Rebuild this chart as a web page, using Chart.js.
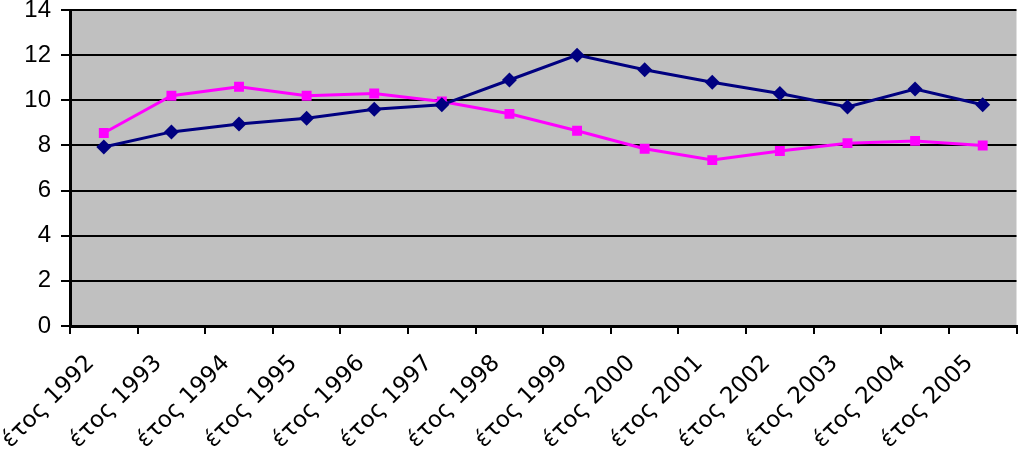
<!DOCTYPE html>
<html><head><meta charset="utf-8">
<script src="https://cdn.jsdelivr.net/npm/chart.js@4"></script>
<style>html,body{margin:0;padding:0;background:#fff}#wrap{width:1024px;height:449px}</style>
</head><body><div id="wrap"><canvas id="c" width="1024" height="449"></canvas></div>
<script>
const categories = ["έτος 1992","έτος 1993","έτος 1994","έτος 1995","έτος 1996","έτος 1997","έτος 1998","έτος 1999","έτος 2000","έτος 2001","έτος 2002","έτος 2003","έτος 2004","έτος 2005"];
const seriesBlue = [7.93, 8.6, 8.95, 9.2, 9.6, 9.8, 10.9, 12.0, 11.35, 10.8, 10.3, 9.7, 10.5, 9.8];
const seriesPink = [8.55, 10.2, 10.6, 10.2, 10.3, 9.95, 9.4, 8.65, 7.85, 7.35, 7.75, 8.1, 8.2, 8.0];
const yTicks = [0, 2, 4, 6, 8, 10, 12, 14];

const bgPlugin = {
  id: 'bg',
  beforeDraw(chart) {
    const {ctx, chartArea: a} = chart;
    ctx.save();
    ctx.fillStyle = '#C0C0C0';
    ctx.fillRect(a.left, a.top, a.right - a.left, a.bottom - a.top);
    ctx.restore();
  }
};

new Chart(document.getElementById('c'), {
  type: 'line',
  data: {
    labels: categories,
    datasets: [
      {data: seriesBlue, borderColor: '#000080', backgroundColor: '#000080', borderWidth: 3,
       pointStyle: 'rectRot', pointRadius: 7.5, pointBorderWidth: 0, tension: 0},
      {data: seriesPink, borderColor: '#FF00FF', backgroundColor: '#FF00FF', borderWidth: 3,
       pointStyle: 'rect', pointRadius: 7, pointBorderWidth: 0, tension: 0}
    ]
  },
  options: {
    responsive: false,
    animation: false,
    devicePixelRatio: 1,
    layout: {padding: {top: 10, right: 2, left: 0, bottom: 0}},
    plugins: {legend: {display: false}, tooltip: {enabled: false}},
    scales: {
      x: {
        offset: true,
        grid: {offset: true, drawOnChartArea: false, color: '#000', lineWidth: 2, tickLength: 8, tickWidth: 2, tickColor: '#000'},
        border: {color: '#000', width: 3},
        ticks: {color: '#000', font: {family: 'DejaVu Sans', size: 23}, minRotation: 45, maxRotation: 45, autoSkip: false, padding: 16, labelOffset: -13},
        afterFit(s) { s.height = 123; s.paddingLeft = 0; s.paddingRight = 0; }
      },
      y: {
        min: 0, max: 14,
        afterBuildTicks(s) { s.ticks = yTicks.map(v => ({value: v})); },
        grid: {color: '#000', lineWidth: 2, tickLength: 9, tickWidth: 2, tickColor: '#000'},
        border: {color: '#000', width: 3},
        ticks: {color: '#000', font: {family: 'Liberation Sans', size: 24}, padding: 10},
        afterFit(s) { s.width = 70; s.paddingTop = 0; s.paddingBottom = 0; }
      }
    }
  },
  plugins: [bgPlugin]
});
</script></body></html>
